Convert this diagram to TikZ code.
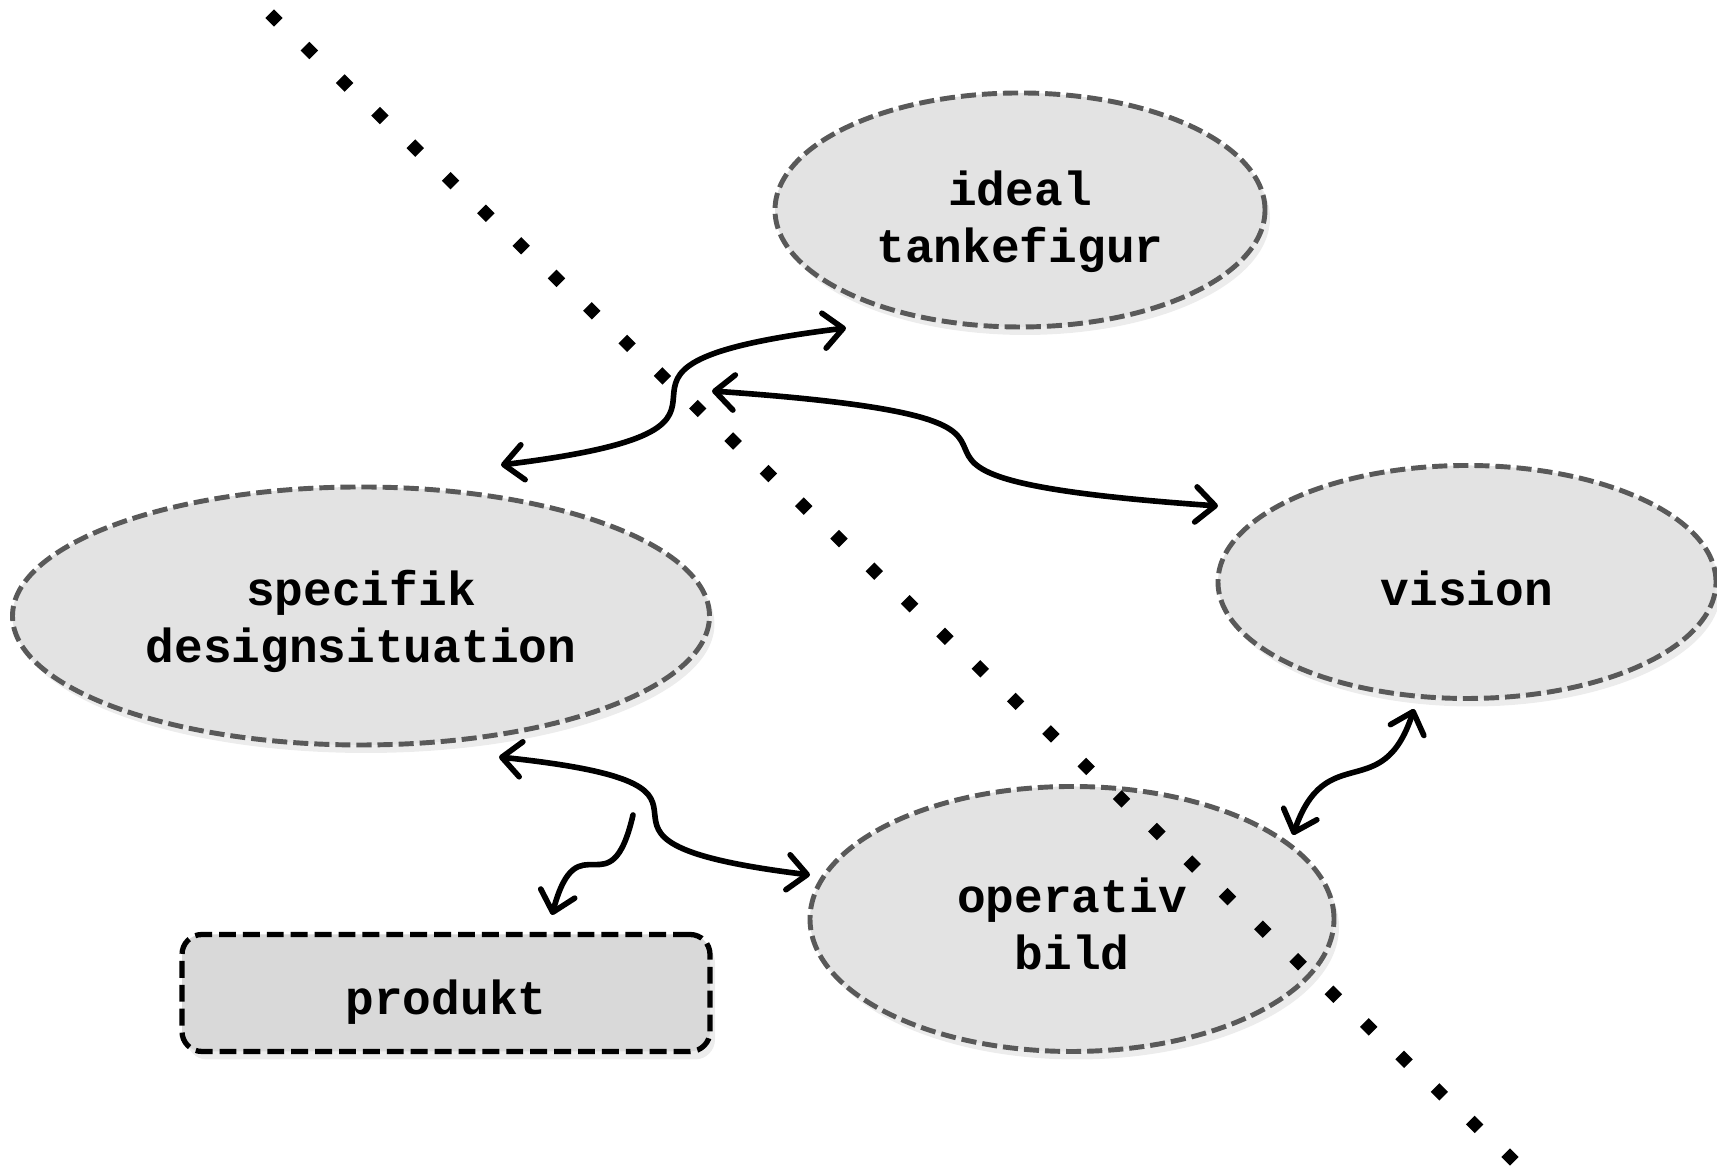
\documentclass[tikz,border=0pt]{standalone}
\usepackage{fontspec}
\setmonofont{Liberation Mono}
\usetikzlibrary{shapes.geometric,arrows.meta,calc,shadows}

\begin{document}
\begin{tikzpicture}[every node/.style={font=\ttfamily\bfseries\fontsize{13.6}{16.2}\selectfont, align=center},
    idea/.style={ellipse, draw=black!65, fill=gray!22, line width=1.4pt, dash pattern=on 4.3pt off 1.7pt, inner sep=0pt, drop shadow={opacity=0.15, shadow xshift=0.5mm, shadow yshift=-0.8mm}},
    result/.style={rectangle, rounded corners=0.2cm, draw=black, fill=black!15, line width=1.5pt, dash pattern=on 4.8pt off 2pt, inner sep=0pt, drop shadow={opacity=0.15, shadow xshift=0.5mm, shadow yshift=-0.8mm}},
    sink/.style={execute at begin node={\rule{0pt}{#1}}},
    dot/.style={diamond, fill=black, inner sep=0pt, minimum width=0.18cm, minimum height=0.18cm},
    link/.style={line width=1.6pt, line cap=round},
    >={Straight Barb[length=5.5pt,width=10pt,round]}]
    \useasboundingbox (0,0) rectangle (17.17,11.70);
    \node[idea, sink=32.6pt, minimum width=4.90cm, minimum height=2.34cm] (ideal) at (10.20,9.60) {ideal\\tankefigur};
    \node[idea, sink=29.5pt, minimum width=6.97cm, minimum height=2.58cm] (specifik) at (3.61,5.54) {specifik\\designsituation};
    \node[idea, sink=13.4pt, minimum width=4.98cm, minimum height=2.33cm] (vision) at (14.67,5.88) {vision};
    \node[idea, sink=28.6pt, minimum width=5.24cm, minimum height=2.65cm] (operativ) at (10.72,2.51) {operativ\\bild};
    \node[result, sink=15.3pt, minimum width=5.28cm, minimum height=1.17cm] (produkt) at (4.46,1.77) {produkt};
    \coordinate (grenseA) at (2.74,11.52);
    \coordinate (grenseB) at (15.10,0.13);
    \foreach \i in {0,...,35}
        \node[dot] (prikk\i) at ($(grenseA)!\i/35!(grenseB)$) {};
    \draw[link, <->] ([shift={(1.40,1.51)}]specifik.center) to[out=7, in=187, looseness=2.3] ([shift={(-1.74,-1.18)}]ideal.center);
    \draw[link, <->] ([shift={(-3.08,-1.81)}]ideal.center) to[out=-4, in=176, looseness=2.3] ([shift={(-2.49,0.76)}]vision.center);
    \draw[link, <->] ([shift={(1.38,-1.41)}]specifik.center) to[out=-6, in=173, looseness=2.3] ([shift={(-2.62,0.44)}]operativ.center);
    \draw[link, ->] ([shift={(2.72,-1.99)}]specifik.center) to[out=-103, in=75, looseness=2] ([shift={(1.06,0.78)}]produkt.center);
    \draw[link, <->] ([shift={(2.21,0.84)}]operativ.center) to[out=71, in=-108, looseness=1.5] ([shift={(-0.53,-1.27)}]vision.center);
\end{tikzpicture}
\end{document}
